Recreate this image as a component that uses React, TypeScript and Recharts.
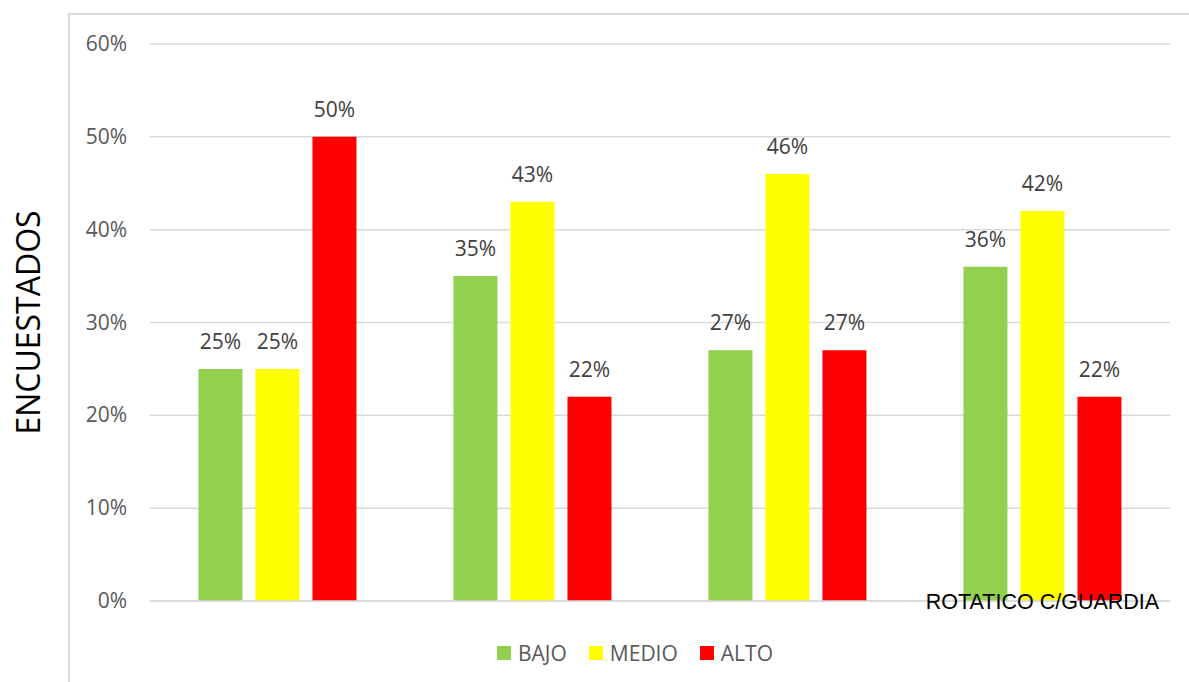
import { BarChart, Bar, XAxis, YAxis, CartesianGrid, Legend, LabelList } from 'recharts';

const categories = ['', '', '', 'ROTATICO C/GUARDIA'];
const bajo = [25, 35, 27, 36];
const medio = [25, 43, 46, 42];
const alto = [50, 22, 27, 22];
const yTicks = [0, 10, 20, 30, 40, 50, 60];

const seriesNames = ['BAJO', 'MEDIO', 'ALTO'];
const seriesColors = ['#92d050', '#ffff00', '#ff0000'];

const data = categories.map((name, i) => ({ name, bajo: bajo[i], medio: medio[i], alto: alto[i] }));

const FONT = '"Open Sans", sans-serif';

// only the last category carries a label, drawn in Arial right over the baseline
function CategoryTick(props: any) {
  const { x, y, payload } = props;
  if (!payload || !payload.value) return null;
  return (
    <text x={x} y={y} dy={0} textAnchor="middle" fill="#000" fontSize={21.5} fontFamily='"Liberation Sans", Arial, sans-serif'>
      {payload.value}
    </text>
  );
}

function PctTick(props: any) {
  const { y, payload } = props;
  return (
    <text x={127} y={y} dy={7} textAnchor="end" fill="#595959" style={{ fontSize: 21, fontFamily: FONT }}>
      {`${payload.value}%`}
    </text>
  );
}

function LegendContent() {
  return (
    <div style={{ display: 'flex', justifyContent: 'center', gap: 22, fontFamily: FONT, fontSize: 21, color: '#595959', paddingLeft: 100 }}>
      {seriesNames.map((n, i) => (
        <div key={n} style={{ display: 'flex', alignItems: 'center', gap: 7 }}>
          <span style={{ width: 14, height: 14, background: seriesColors[i], display: 'inline-block' }} />
          {n}
        </div>
      ))}
    </div>
  );
}

const labelStyle = { fill: '#404040', fontSize: 21, fontFamily: FONT };
const pct = (v: any) => `${v}%`;

export default function App() {
  return (
    <div style={{ position: 'relative', width: 1189, height: 682, background: '#fff' }}>
      <style>{'body{margin:0}'}</style>
      <div style={{ position: 'absolute', left: 68, top: 13, right: 0, bottom: 0, borderLeft: '2px solid #d9d9d9', borderTop: '2px solid #d9d9d9' }} />
      <div style={{ position: 'absolute', left: 0, top: 0 }}>
        <BarChart width={1189} height={682} data={data} margin={{ top: 44, right: 19, bottom: 45, left: 0 }} barCategoryGap="19%" barGap={13}>
          <CartesianGrid vertical={false} stroke="#d9d9d9" strokeWidth={1.5} />
          <XAxis dataKey="name" height={1} axisLine={{ stroke: '#d9d9d9', strokeWidth: 1.5 }} tickLine={false} tick={<CategoryTick />} interval={0} />
          <YAxis
            width={150}
            domain={[0, 60]}
            ticks={yTicks}
            axisLine={false}
            tickLine={false}
            tick={<PctTick />}
            label={{ value: 'ENCUESTADOS', angle: -90, position: 'insideLeft', offset: 0, dx: 29, style: { fill: '#000', fontSize: 32, fontFamily: FONT, textAnchor: 'middle' } }}
          />
          <Legend verticalAlign="bottom" height={35} content={<LegendContent />} wrapperStyle={{ bottom: 8 }} />
          {['bajo', 'medio', 'alto'].map((key, i) => (
            <Bar key={key} dataKey={key} name={seriesNames[i]} fill={seriesColors[i]} isAnimationActive={false}>
              <LabelList dataKey={key} position="top" offset={20} formatter={pct} style={labelStyle} />
            </Bar>
          ))}
        </BarChart>
      </div>
    </div>
  );
}
